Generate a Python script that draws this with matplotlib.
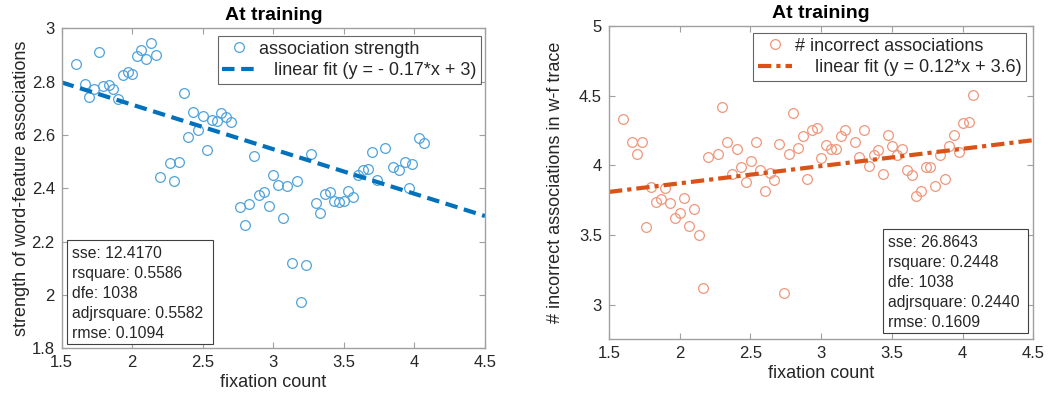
import matplotlib
matplotlib.use("Agg")
import matplotlib.pyplot as plt
from matplotlib.patches import Rectangle

plt.rcParams['font.family'] = ['Liberation Sans', 'DejaVu Sans']

# ---------------- data: left panel ----------------
left_x = [1.599, 1.764, 1.665, 1.696, 1.731, 1.795, 1.835, 1.866, 1.899, 1.932,
          1.968, 1.996, 2.034, 2.064, 2.097, 2.133, 2.166, 2.197, 2.298, 2.265,
          2.331, 2.365, 2.397, 2.431, 2.464, 2.499, 2.532, 2.567, 2.601, 2.631,
          2.667, 2.700, 2.865, 3.000, 3.033, 2.764, 2.830, 2.898, 2.934, 2.967,
          3.265, 3.097, 3.165, 2.799, 3.066, 3.134, 3.234, 3.198, 3.300, 3.331,
          3.364, 3.399, 3.432, 3.465, 3.499, 3.531, 3.567, 3.600, 3.633, 3.669,
          3.699, 3.732, 3.790, 3.850, 3.890, 3.930, 3.960, 3.980, 4.030, 4.070]
left_y = [2.865, 2.912, 2.790, 2.744, 2.772, 2.785, 2.786, 2.774, 2.735, 2.825,
          2.837, 2.828, 2.895, 2.919, 2.886, 2.945, 2.900, 2.442, 2.426, 2.495,
          2.498, 2.757, 2.592, 2.686, 2.618, 2.672, 2.544, 2.655, 2.652, 2.681,
          2.666, 2.650, 2.520, 2.449, 2.414, 2.331, 2.340, 2.375, 2.386, 2.334,
          2.528, 2.409, 2.426, 2.262, 2.289, 2.121, 2.112, 1.974, 2.344, 2.306,
          2.378, 2.386, 2.354, 2.350, 2.352, 2.390, 2.367, 2.451, 2.468, 2.471,
          2.535, 2.431, 2.550, 2.480, 2.470, 2.500, 2.400, 2.490, 2.590, 2.570]
left_fit_x = [1.5, 4.5]
left_fit_y = [2.797, 2.296]
left_stats = ["sse: 12.4170", "rsquare: 0.5586", "dfe: 1038",
              "adjrsquare: 0.5582", "rmse: 0.1094"]

# ---------------- data: right panel ----------------
right_x = [1.597, 1.663, 1.731, 1.698, 1.764, 1.799, 1.833, 1.866, 1.898, 1.932,
           1.967, 2.000, 2.033, 2.066, 2.102, 2.135, 2.167, 2.201, 2.269, 2.302,
           2.335, 2.368, 2.404, 2.436, 2.470, 2.503, 2.538, 2.569, 2.604, 2.637,
           2.670, 2.703, 2.736, 2.772, 2.804, 2.838, 2.871, 2.901, 2.937, 2.970,
           3.002, 3.036, 3.069, 3.102, 3.137, 3.170, 3.236, 3.269, 3.305, 3.338,
           3.371, 3.404, 3.437, 3.470, 3.503, 3.538, 3.574, 3.604, 3.640, 3.671,
           3.706, 3.739, 3.772, 3.805, 3.840, 3.873, 3.906, 3.940, 3.975, 4.005,
           4.043, 4.074]
right_y = [4.332, 4.167, 4.167, 4.083, 3.558, 3.843, 3.737, 3.759, 3.836, 3.726,
           3.625, 3.661, 3.764, 3.565, 3.687, 3.500, 3.122, 4.057, 4.083, 4.417,
           4.167, 3.939, 4.119, 3.989, 3.877, 4.032, 4.167, 3.965, 3.817, 3.946,
           3.893, 4.153, 3.081, 4.083, 4.376, 4.124, 4.208, 3.901, 4.253, 4.268,
           4.052, 4.146, 4.119, 4.119, 4.208, 4.251, 4.169, 4.059, 4.251, 3.992,
           4.073, 4.109, 3.937, 4.220, 4.138, 4.076, 4.114, 3.970, 3.932, 3.783,
           3.817, 3.989, 3.989, 3.855, 4.073, 3.903, 4.138, 4.217, 4.097, 4.301,
           4.309, 4.505]
right_fit_x = [1.5, 4.5]
right_fit_y = [3.809, 4.181]
right_stats = ["sse: 26.8643", "rsquare: 0.2448", "dfe: 1038",
               "adjrsquare: 0.2440", "rmse: 0.1609"]

x_ticks = [1.5, 2, 2.5, 3, 3.5, 4, 4.5]
x_ticklabels = ["1.5", "2", "2.5", "3", "3.5", "4", "4.5"]
left_yticks = [1.8, 2.0, 2.2, 2.4, 2.6, 2.8, 3.0]
left_yticklabels = ["1.8", "2", "2.2", "2.4", "2.6", "2.8", "3"]
right_yticks = [3, 3.5, 4, 4.5, 5]
right_yticklabels = ["3", "3.5", "4", "4.5", "5"]

W, H = 1050, 407
fig = plt.figure(figsize=(W / 100, H / 100), dpi=100)


def px_axes(l, t, r, b):
    return fig.add_axes([l / W, 1 - b / H, (r - l) / W, (b - t) / H])


def fx(px):
    return px / W


def fy(py):
    return 1 - py / H


ax1 = px_axes(61.7, 28.3, 485, 348.3)
ax2 = px_axes(609, 26.2, 1033.3, 339.3)

spine_c = '#a0a0a0'
text_c = '#262626'
box_c = '#404040'


def style(ax):
    for s in ax.spines.values():
        s.set_color(spine_c)
        s.set_linewidth(1.0)
    ax.tick_params(direction='in', length=4, width=0.8, color=spine_c,
                   labelsize=12, labelcolor=text_c, top=True, right=True, pad=5)


def stats_box(l, t, r, b, lines):
    fig.add_artist(Rectangle((fx(l), fy(b)), fx(r) - fx(l), fy(t) - fy(b),
                             transform=fig.transFigure, fc='white', ec=box_c,
                             lw=0.8, zorder=5))
    fig.text(fx(l + 5.5), fy(t + 6), "\n".join(lines), fontsize=11.3,
             color=text_c, va='top', ha='left', linespacing=1.42, zorder=6)


def make_legend(ax, anchor_px):
    leg = ax.legend(loc='upper right',
                    bbox_to_anchor=(fx(anchor_px[0]), fy(anchor_px[1])),
                    bbox_transform=fig.transFigure, borderaxespad=0,
                    fontsize=13, frameon=True, fancybox=False,
                    edgecolor=box_c, handlelength=1.9, handletextpad=0.15,
                    borderpad=0.25, labelspacing=0.25)
    leg.get_frame().set_linewidth(0.8)
    for t in leg.get_texts():
        t.set_color(text_c)
    return leg


# left panel
c1m = '#4fa3dc'
c1l = '#0072bd'
ax1.plot(left_x, left_y, 'o', mfc='none', mec=c1m, ms=7, mew=0.9,
         label='association strength')
ax1.plot(left_fit_x, left_fit_y, '--', color=c1l, lw=3, dashes=(3, 1.6),
         label='   linear fit (y = - 0.17*x + 3)')
ax1.set_xlim(1.5, 4.5)
ax1.set_ylim(1.8, 3.0)
ax1.set_xticks(x_ticks)
ax1.set_xticklabels(x_ticklabels)
ax1.set_yticks(left_yticks)
ax1.set_yticklabels(left_yticklabels)
style(ax1)
ax1.set_title('At training', fontsize=14, fontweight='bold', color='black', pad=6)
ax1.set_xlabel('fixation count', fontsize=13, color=text_c, labelpad=3)
ax1.set_ylabel('strength of word-feature associations', fontsize=13,
               color=text_c, labelpad=1)
make_legend(ax1, (481, 36))
stats_box(66.7, 240, 213.3, 344, left_stats)

# right panel
c2m = '#f0977a'
c2l = '#d95319'
ax2.plot(right_x, right_y, 'o', mfc='none', mec=c2m, ms=7, mew=0.9,
         label='# incorrect associations')
ax2.plot(right_fit_x, right_fit_y, '-.', color=c2l, lw=3, dashes=(3.2, 1.2, 1, 1.2),
         label='    linear fit (y = 0.12*x + 3.6)')
ax2.set_xlim(1.5, 4.5)
ax2.set_ylim(2.75, 5.0)
ax2.set_xticks(x_ticks)
ax2.set_xticklabels(x_ticklabels)
ax2.set_yticks(right_yticks)
ax2.set_yticklabels(right_yticklabels)
style(ax2)
ax2.set_title('At training', fontsize=14, fontweight='bold', color='black', pad=6)
ax2.set_xlabel('fixation count', fontsize=13, color=text_c, labelpad=3)
ax2.set_ylabel('# incorrect associations in w-f trace', fontsize=13,
               color=text_c, labelpad=11)
make_legend(ax2, (1026, 33))
stats_box(882.7, 229.3, 1027.7, 333.3, right_stats)

fig.savefig('out.png', dpi=100)
